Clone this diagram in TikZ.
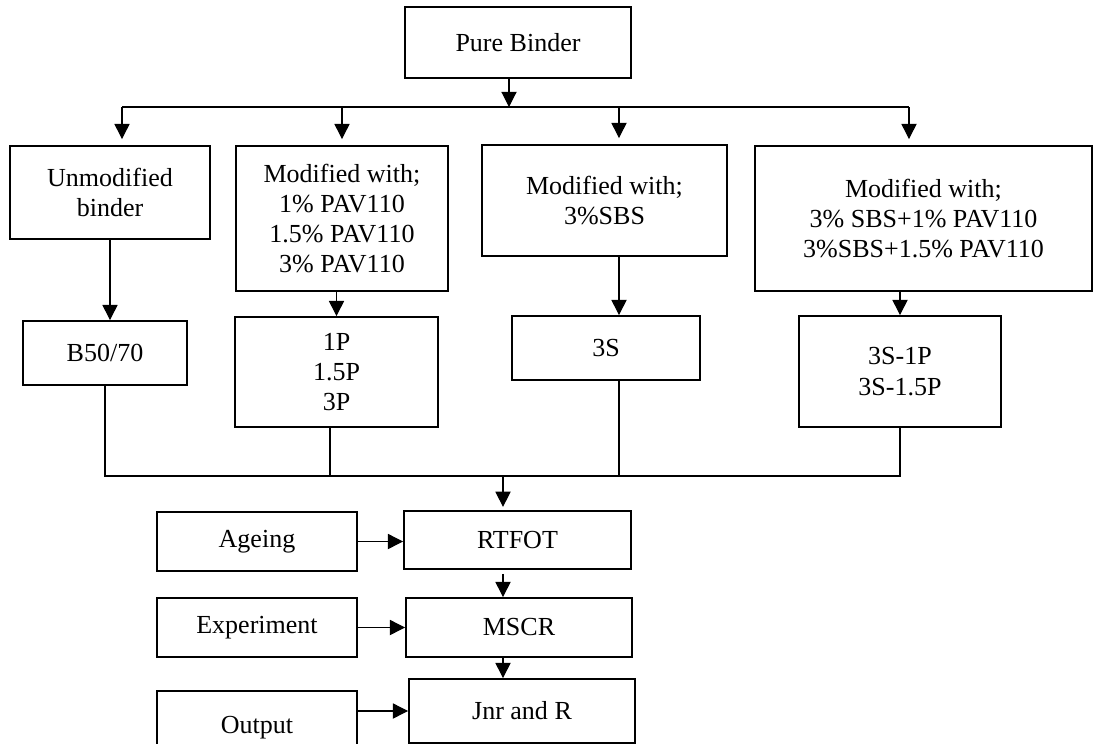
\documentclass[tikz,border=0pt]{standalone}
\usepackage{fontspec}
\setmainfont{Liberation Serif}
\usetikzlibrary{calc, positioning, arrows.meta}

\begin{document}
\begin{tikzpicture}[x=0.025cm, y=-0.025cm, blk/.style={draw, line width=1.3pt, align=center, inner sep=2pt, font=\fontsize{18.5}{21.5}\selectfont}, arr/.style={-{Triangle[width=0.38cm, length=0.38cm]}, line width=0.8pt}, lnk/.style={line width=0.8pt}]
  \clip (0,0) rectangle (1094,744);

  \node[blk, minimum width=5.65cm, minimum height=1.775cm] (pure) at (518,42.5) {Pure Binder};

  \node[blk, minimum width=5cm, minimum height=2.325cm] (unmod) at (110,192.5) {Unmodified\\binder};
  \node[blk, minimum width=5.3cm, minimum height=3.625cm] (pav) at (342,218.5) {Modified with;\\1\% PAV110\\1.5\% PAV110\\3\% PAV110};
  \node[blk, minimum width=6.125cm, minimum height=2.775cm] (sbs) at (604.5,200.5) {Modified with;\\3\%SBS};
  \node[blk, minimum width=8.425cm, minimum height=3.625cm] (sbspav) at (923.5,218.5) {Modified with;\\3\% SBS+1\% PAV110\\3\%SBS+1.5\% PAV110};

  \node[blk, minimum width=4.1cm, minimum height=1.6cm] (b5070) at (105,353) {B50/70};
  \node[blk, minimum width=5.075cm, minimum height=2.75cm] (p) at (336.5,372) {1P\\1.5P\\3P};
  \node[blk, minimum width=4.7cm, minimum height=1.6cm] (s) at (606,348) {3S};
  \node[blk, minimum width=5.05cm, minimum height=2.775cm] (sp) at (900,371.5) {3S-1P\\3S-1.5P};

  \node[blk, minimum width=5.675cm, minimum height=1.45cm] (rtfot) at (517.5,540) {RTFOT};
  \node[blk, minimum width=5cm, minimum height=1.475cm] (ageing) at (257,541.5) {Ageing};
  \node[blk, minimum width=5.65cm, minimum height=1.475cm] (mscr) at (519,627.5) {MSCR};
  \node[blk, minimum width=5cm, minimum height=1.475cm] (exper) at (257,627.5) {Experiment};
  \node[blk, minimum width=5.65cm, minimum height=1.6cm] (jnr) at (522,711) {Jnr and R};
  \node[blk, minimum width=5cm, minimum height=1.85cm] (output) at (257,728) {Output};

  \coordinate (bus) at (509,107);
  \coordinate (a1) at (122,107);
  \coordinate (a2) at (342,107);
  \coordinate (a3) at (619,107);
  \coordinate (a4) at (909,107);
  \coordinate (m) at (503,476);
  \coordinate (d2) at (330,476);

  \draw[arr] (pure.south -| bus) -- (bus);
  \draw[lnk] (a1) -- (a4);
  \draw[arr, shorten >= 0.15cm] (a1) -- (a1 |- unmod.north);
  \draw[arr, shorten >= 0.15cm] (a2) -- (a2 |- pav.north);
  \draw[arr, shorten >= 0.15cm] (a3) -- (a3 |- sbs.north);
  \draw[arr, shorten >= 0.15cm] (a4) -- (a4 |- sbspav.north);

  \draw[arr] (unmod.south) -- (unmod.south |- b5070.north);
  \draw[arr] (pav.south -| p) -- (p.north);
  \draw[arr] (a3 |- sbs.south) -- (a3 |- s.north);
  \draw[arr] (sbspav.south -| sp) -- (sp.north);

  \draw[lnk] (b5070.south) -- (b5070.south |- m) -- (sp.south |- m) -- (sp.south);
  \draw[lnk] (d2 |- p.south) -- (d2);
  \draw[lnk] (a3 |- s.south) -- (a3 |- m);

  \draw[arr, shorten >= 0.08cm] (m) -- (m |- rtfot.north);
  \draw[arr, shorten <= 0.1cm] (m |- rtfot.south) -- (m |- mscr.north);
  \draw[arr] (m |- mscr.south) -- (m |- jnr.north);

  \draw[arr] (ageing.east) -- (ageing.east -| rtfot.west);
  \draw[arr] (exper.east) -- (exper.east -| mscr.west);
  \draw[arr] (output.east |- jnr.west) -- (jnr.west);
\end{tikzpicture}
\end{document}
